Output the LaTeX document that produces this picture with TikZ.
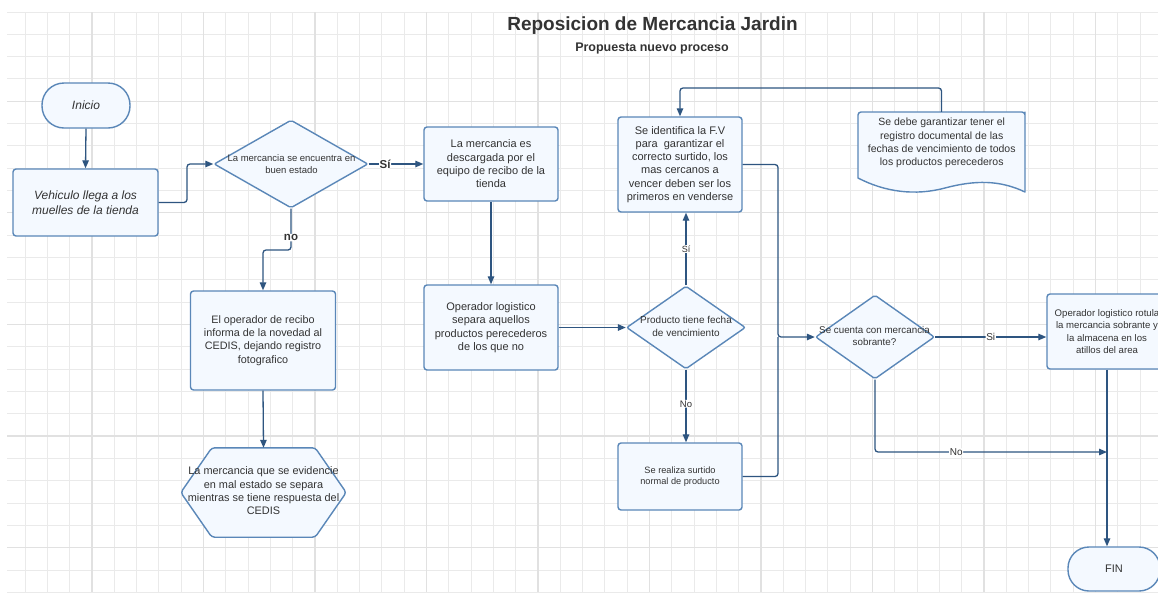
\documentclass[tikz,border=0pt]{standalone}
\usepackage{fontspec}
\setmainfont{Liberation Sans}
\usetikzlibrary{arrows.meta,calc,shapes.geometric}
\definecolor{edgeblue}{HTML}{5A87B8}
\definecolor{fillblue}{HTML}{F4F9FF}
\definecolor{linkblue}{HTML}{2E5580}
\definecolor{txt}{HTML}{333333}
\definecolor{gridminor}{HTML}{EAEAEA}
\definecolor{gridmajor}{HTML}{E1E1E1}
\newcommand\fsz[2]{\fontsize{#1}{#2}\selectfont}

\begin{document}
\begin{tikzpicture}[x=1pt,y=-1pt,
  every node/.style={text=txt},
  box/.style={draw=edgeblue, fill=fillblue, line width=1.4pt, rounded corners=3pt,
              inner sep=0pt, align=center, font=\fsz{11}{13.3}},
  decision/.style={diamond, draw=edgeblue, fill=fillblue, line width=1.4pt,
              rounded corners=2pt, inner sep=0pt},
  outline/.style={draw=edgeblue, fill=fillblue, line width=1.4pt},
  plain/.style={inner sep=0pt, align=center},
  link/.style={draw=linkblue, line width=1.3pt, rounded corners=3pt},
  flow/.style={link, -{Triangle[length=8pt,width=6.5pt]}},
  tag/.style={fill=white, inner sep=0.6pt, text=txt}
]
\useasboundingbox (0,0) rectangle (1158,592);
\clip (0,0) rectangle (1158,592);
\fill[white] (0,0) rectangle (1158,592);

% background grid
\foreach \i in {0,...,50} {
  \draw[gridminor, line width=1pt] ({25+22.3*\i},12) -- ({25+22.3*\i},592);
}
\foreach \j in {0,...,26} {
  \draw[gridminor, line width=1pt] (7,{12+22.32*\j}) -- (1158,{12+22.32*\j});
}
\foreach \i in {0,...,9} {
  \draw[gridmajor, line width=1.2pt] ({92+111.5*\i},12) -- ({92+111.5*\i},592);
}
\foreach \j in {0,...,4} {
  \draw[gridmajor, line width=1.2pt] (7,{101.2+111.6*\j}) -- (1158,{101.2+111.6*\j});
}

% titles
\node[plain, font=\fsz{19}{22}\bfseries] (title) at (652.5,26) {Reposicion de Mercancia Jardin};
\node[plain, font=\fsz{12.5}{15}\bfseries] (subtitle) at (652,48) {Propuesta nuevo proceso};

% left column
\node[box, minimum width=88pt, minimum height=45pt, rounded corners=22pt,
      font=\itshape\fsz{12}{15}] (inicio) at (86,105.5) {Inicio};
\node[box, minimum width=145pt, minimum height=67pt,
      font=\itshape\fsz{12}{15}] (veh) at (85.5,202.5) {Vehiculo llega a los\\muelles de la tienda};

\node[decision, minimum width=154pt, minimum height=88pt] (d1) at (291,164) {};
\node[plain, font=\fsz{9.5}{12.3}] (d1t) at (291.5,164) {La mercancia se encuentra en\\buen estado};

\node[box, minimum width=145pt, minimum height=99pt, font=\fsz{10.8}{13.3}] (ofrec) at (263,340.5)
  {El operador de recibo\\informa de la novedad al\\CEDIS, dejando registro\\fotografico};

% hexagon
\node[inner sep=0pt, minimum width=165pt, minimum height=89pt] (hex) at (263.5,492.5) {};
\draw[outline, rounded corners=3pt]
  (hex.west) -- ($(hex.north west)+(31,0)$) -- ($(hex.north east)+(-31,0)$) --
  (hex.east) -- ($(hex.south east)+(-31,0)$) -- ($(hex.south west)+(31,0)$) -- cycle;
\node[plain, font=\fsz{10.9}{13.3}] (hext) at (263.5,491)
  {La mercancia que se evidencie\\en mal estado se separa\\mientras se tiene respuesta del\\CEDIS};

% second column
\node[box, minimum width=134pt, minimum height=74pt] (desc) at (491,164)
  {La mercancia es\\descargada por el\\equipo de recibo de la\\tienda};
\node[box, minimum width=134pt, minimum height=85pt] (oper) at (491,327.5)
  {Operador logistico\\separa aquellos\\productos perecederos\\de los que no};

% third column
\node[box, minimum width=124pt, minimum height=95pt] (idfv) at (680,164.5)
  {Se identifica la F.V\\para\ \ garantizar el\\correcto surtido, los\\mas cercanos a\\vencer deben ser los\\primeros en venderse};
\node[decision, minimum width=119pt, minimum height=83pt] (d2) at (686,327.5) {};
\node[plain, font=\fsz{10}{13}] (d2t) at (686,326) {Producto tiene fecha\\de vencimiento};
\node[box, minimum width=124pt, minimum height=67pt, font=\fsz{9.2}{11.7}] (surt) at (680,476.5)
  {Se realiza surtido\\normal de producto};

% document shape
\node[inner sep=0pt, minimum width=167pt, minimum height=80pt] (doc) at (941.5,152) {};
\draw[outline, line join=round]
  (858,178) -- (858,115) [rounded corners=3pt] -- (858,112) -- (1025,112) -- (1025,115)
  [sharp corners] -- (1025,192)
  .. controls (1000,180) and (975,180) .. (945,188)
  .. controls (915,196) and (885,192) .. (858,178) -- cycle;
\node[plain, font=\fsz{10.5}{13.3}] (doct) at (941.7,143)
  {Se debe garantizar tener el\\registro documental de las\\fechas de vencimiento de todos\\los productos perecederos};

% right column
\node[decision, minimum width=119pt, minimum height=84pt] (d3) at (875,337) {};
\node[plain, font=\fsz{9.8}{12}] (d3t) at (874.5,336) {Se cuenta con mercancia\\sobrante?};
\node[box, minimum width=120pt, minimum height=75pt, font=\fsz{9.6}{12.2}] (rot) at (1107,331.5)
  {Operador logistico rotula\\la mercancia sobrante y\\la almacena en los\\atillos del area};
\node[box, minimum width=92pt, minimum height=44pt, rounded corners=21pt] (fin) at (1114,569) {FIN};

% connectors
\draw[flow] (inicio.south) -- (veh.north);
\draw[flow] (veh.east) -- (187,202.5) -- (187,164) -- (d1.west);
\draw[flow] (d1.east) -- node[tag, font=\fsz{11.5}{13}\bfseries, pos=0.3] (si1) {Sí} (desc.west);
\draw[flow] (d1.south) -- node[tag, font=\fsz{11.5}{13}\bfseries, pos=0.7] (no1) {no} (291,250) -- (263,250) -- (ofrec.north);
\draw[flow] (ofrec.south) -- (hex.north);
\draw[flow] (desc.south) -- (oper.north);
\draw[flow] (oper.east) -- (d2.west);
\draw[flow] (d2.north) -- node[tag, font=\fsz{9}{11}] (si2) {Sí} (d2.north |- idfv.south);
\draw[flow] (d2.south) -- node[tag, font=\fsz{9.5}{11}, pos=0.47] (no2) {No} (d2.south |- surt.north);
\coordinate (join) at (778,337);
\draw[flow] (idfv.east) -- (idfv.east -| join) -- (join) -- (d3.west);
\draw[link] (surt.east) -- (surt.east -| join) -- (join);
\draw[flow] (d3.east) -- node[tag, font=\fsz{10}{12}, pos=0.5] (si3) {Si} (d3.east -| rot.west);
\draw[flow] (d3.south) -- (875,452) -- node[tag, font=\fsz{10}{12}, pos=0.35] (no3) {No} (rot.south |- 875,452);
\draw[flow] (rot.south) -- (rot.south |- fin.north);
\draw[flow] (doc.north) -- (941.5,88) -- (680,88) -- (idfv.north);
\end{tikzpicture}
\end{document}
